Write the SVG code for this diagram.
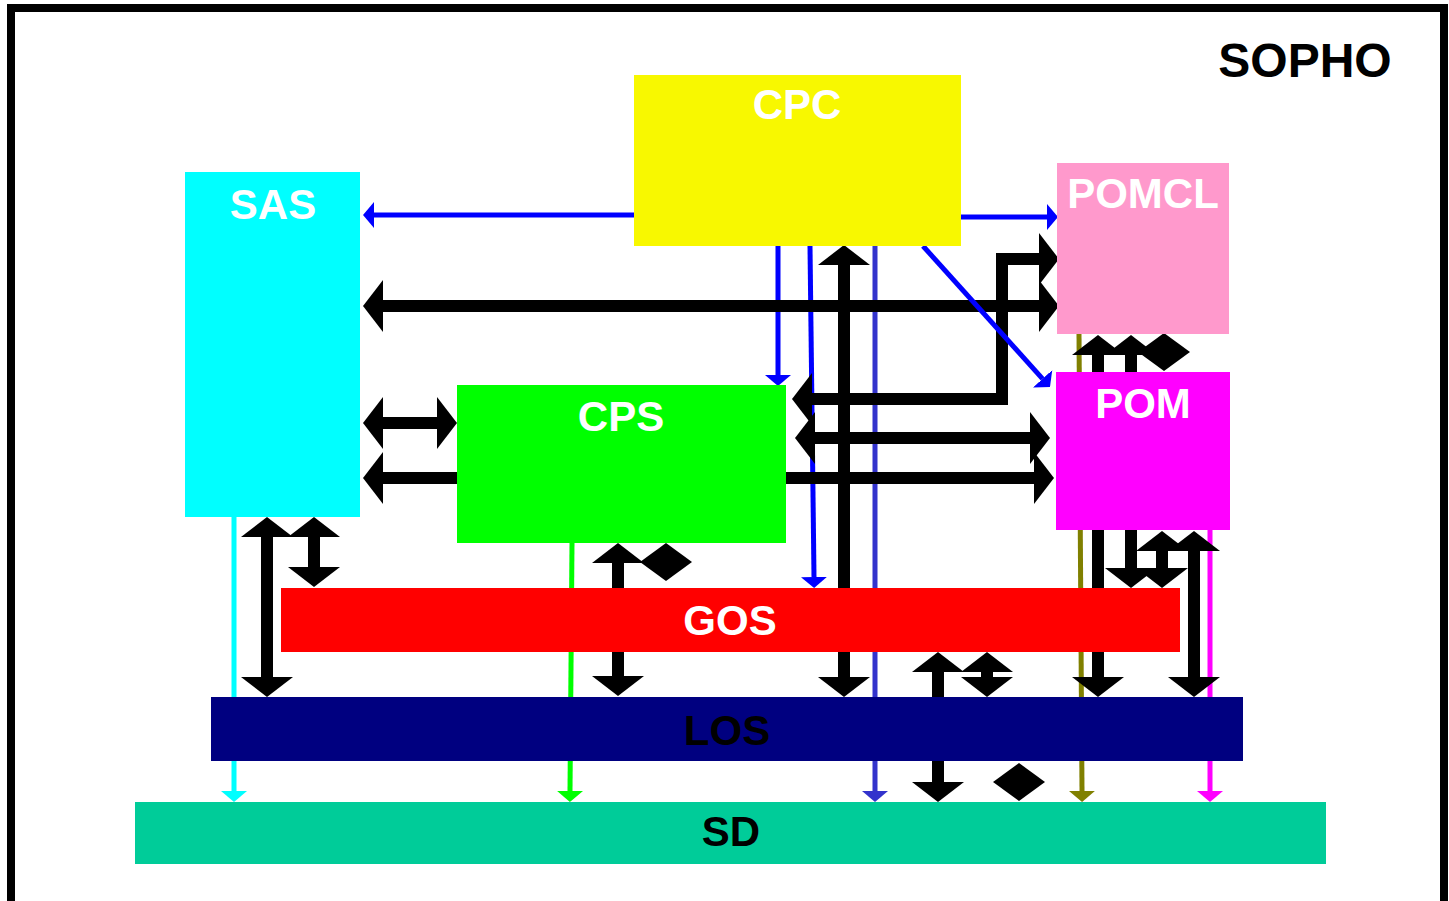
<svg xmlns="http://www.w3.org/2000/svg" width="1449" height="901" viewBox="0 0 1449 901">
<style>
.lbl{font-family:"Liberation Sans",Arial,sans-serif;font-weight:bold;font-size:42px;text-anchor:middle}
.w{fill:#FFFFFF}.k{fill:#000000}
.thk{stroke:#000;stroke-width:12;fill:none;marker-start:url(#bh);marker-end:url(#bh)}
.thk1{stroke:#000;stroke-width:12;fill:none;marker-end:url(#bh)}
.thin{stroke-width:5;fill:none}
</style>
<defs>
<marker id="bh" viewBox="0 0 20 52" refX="0" refY="26" markerWidth="20" markerHeight="52" markerUnits="userSpaceOnUse" orient="auto-start-reverse"><path d="M0,0 L20,26 L0,52 z" fill="#000"/></marker>
<marker id="ab" viewBox="0 0 11 26" refX="0" refY="13" markerWidth="11" markerHeight="26" markerUnits="userSpaceOnUse" orient="auto"><path d="M0,0 L11,13 L0,26 z" fill="#0000FF"/></marker>
<marker id="as" viewBox="0 0 11 26" refX="0" refY="13" markerWidth="11" markerHeight="26" markerUnits="userSpaceOnUse" orient="auto"><path d="M0,0 L11,13 L0,26 z" fill="#3333CC"/></marker>
<marker id="ac" viewBox="0 0 11 26" refX="0" refY="13" markerWidth="11" markerHeight="26" markerUnits="userSpaceOnUse" orient="auto"><path d="M0,0 L11,13 L0,26 z" fill="#00FFFF"/></marker>
<marker id="ag" viewBox="0 0 11 26" refX="0" refY="13" markerWidth="11" markerHeight="26" markerUnits="userSpaceOnUse" orient="auto"><path d="M0,0 L11,13 L0,26 z" fill="#00FF00"/></marker>
<marker id="ao" viewBox="0 0 11 26" refX="0" refY="13" markerWidth="11" markerHeight="26" markerUnits="userSpaceOnUse" orient="auto"><path d="M0,0 L11,13 L0,26 z" fill="#808000"/></marker>
<marker id="am" viewBox="0 0 11 26" refX="0" refY="13" markerWidth="11" markerHeight="26" markerUnits="userSpaceOnUse" orient="auto"><path d="M0,0 L11,13 L0,26 z" fill="#FF00FF"/></marker>
<path id="dia" d="M0,-19 L26,0 L0,19 L-26,0 z" fill="#000"/>
</defs>
<rect x="0" y="0" width="1449" height="901" fill="#FFFFFF"/>
<rect id="frame" x="11" y="8" width="1433" height="900" fill="none" stroke="#000" stroke-width="8"/>
<text class="lbl k" x="1305" y="77" style="font-size:48px">SOPHO</text>

<g id="connectors">
  <line class="thin" stroke="#00FFFF" x1="234" y1="517" x2="234" y2="791" marker-end="url(#ac)"/>
  <line class="thin" stroke="#00FF00" x1="572" y1="543" x2="570" y2="791" marker-end="url(#ag)"/>
  <line class="thin" stroke="#808000" x1="1079" y1="334" x2="1082" y2="791" marker-end="url(#ao)"/>
  <line class="thin" stroke="#FF00FF" x1="1210" y1="530" x2="1210" y2="791" marker-end="url(#am)"/>
  <line class="thin" stroke="#3333CC" x1="875" y1="246" x2="875" y2="791" marker-end="url(#as)"/>
  <line class="thin" stroke="#0000FF" x1="634" y1="215" x2="374" y2="215" marker-end="url(#ab)"/>
  <line class="thin" stroke="#0000FF" x1="961" y1="217" x2="1047" y2="217" marker-end="url(#ab)"/>
  <line class="thin" stroke="#0000FF" x1="778" y1="246" x2="778" y2="375" marker-end="url(#ab)"/>
  <line class="thin" stroke="#0000FF" x1="810" y1="246" x2="814" y2="577" marker-end="url(#ab)"/>

  <line class="thk" x1="383" y1="306" x2="1039" y2="306"/>
  <path class="thk" d="M812,399 H1002 V259 H1039"/>
  <line class="thk" x1="815" y1="438" x2="1030" y2="438"/>
  <line class="thk1" x1="786" y1="478" x2="1034" y2="478"/>
  <line class="thk" x1="383" y1="423" x2="437" y2="423"/>
  <line class="thk1" x1="457" y1="478" x2="383" y2="478"/>
  <line class="thk" x1="844" y1="265" x2="844" y2="677"/>
  <line class="thk" x1="267" y1="537" x2="267" y2="677"/>
  <line class="thk" x1="314" y1="537" x2="314" y2="567"/>
  <line class="thk" x1="618" y1="563" x2="618" y2="676"/>
  <line class="thk" x1="1098" y1="355" x2="1098" y2="677"/>
  <line class="thk" x1="1131" y1="355" x2="1131" y2="568"/>
  <line class="thk" x1="1162" y1="551" x2="1162" y2="568"/>
  <line class="thk" x1="1194" y1="551" x2="1194" y2="677"/>
  <line class="thk" x1="938" y1="672" x2="938" y2="782"/>
  <line class="thk" x1="987" y1="672" x2="987" y2="677"/>
  <use href="#dia" x="666" y="562"/>
  <use href="#dia" x="1164" y="352"/>
  <use href="#dia" x="1019" y="782"/>

  <line class="thin" stroke="#0000FF" x1="923" y1="246" x2="1042.6" y2="378.8" marker-end="url(#ab)"/>
</g>

<g id="CPC"><rect x="634" y="75" width="327" height="171" fill="#F8F800"/><text class="lbl w" x="797" y="119">CPC</text></g>
<g id="SAS"><rect x="185" y="172" width="175" height="345" fill="#00FFFF"/><text class="lbl w" x="273" y="219">SAS</text></g>
<g id="POMCL"><rect x="1057" y="163" width="172" height="171" fill="#FF99CC"/><text class="lbl w" x="1143" y="208">POMCL</text></g>
<g id="CPS"><rect x="457" y="385" width="329" height="158" fill="#00FF00"/><text class="lbl w" x="621" y="431">CPS</text></g>
<g id="POM"><rect x="1056" y="372" width="174" height="158" fill="#FF00FF"/><text class="lbl w" x="1143" y="418">POM</text></g>
<g id="GOS"><rect x="281" y="588" width="899" height="64" fill="#FF0000"/><text class="lbl w" x="730" y="635">GOS</text></g>
<g id="LOS"><rect x="211" y="697" width="1032" height="64" fill="#000080"/><text class="lbl k" x="727" y="745">LOS</text></g>
<g id="SD"><rect x="135" y="802" width="1191" height="62" fill="#00CC99"/><text class="lbl k" x="731" y="846">SD</text></g>
</svg>
